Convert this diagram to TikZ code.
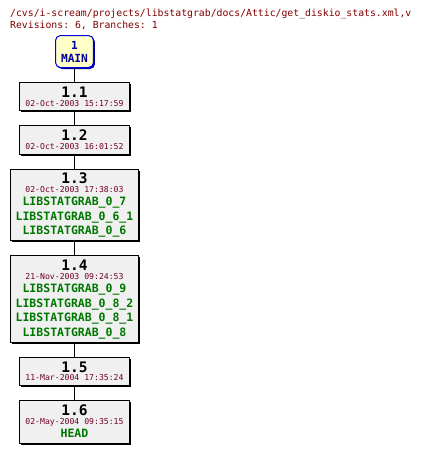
\documentclass[tikz,border=0pt]{standalone}
\usepackage{fontspec}
\setmonofont{DejaVu Sans Mono}
\usepackage{tikz}
\usetikzlibrary{positioning,shadows}

\definecolor{cvsred}{RGB}{128,0,0}
\definecolor{datered}{RGB}{112,0,40}
\definecolor{taggreen}{RGB}{0,120,0}
\definecolor{mainblue}{RGB}{0,0,160}
\definecolor{mainline}{RGB}{0,0,220}
\definecolor{mainfill}{RGB}{255,255,200}
\definecolor{revfill}{RGB}{240,240,240}

\newcommand{\revno}[1]{\rule[-2.7pt]{0pt}{17.5pt}{\fontsize{14.5pt}{14.5pt}\selectfont\bfseries #1}}
\newcommand{\revdate}[1]{\rule[-4.7pt]{0pt}{10.7pt}{\fontsize{8.15pt}{8.15pt}\selectfont\color{datered}#1}}
\newcommand{\revtag}[1]{\rule[-6pt]{0pt}{14pt}{\fontsize{11.5pt}{11.5pt}\selectfont\bfseries\color{taggreen}#1}}

\begin{document}
\begin{tikzpicture}[
    x=1pt, y=1pt,
    node distance=14pt,
    title/.style={anchor=base west, inner sep=0pt, text=cvsred,
      font=\fontsize{9.8pt}{9.8pt}\selectfont\ttfamily},
    trunk/.style={draw=mainline, fill=mainfill, rounded corners=5pt,
      line width=1pt, align=center, inner xsep=5.5pt, inner ysep=0pt,
      text=mainblue, font=\offinterlineskip\ttfamily\bfseries,
      drop shadow={shadow xshift=1.5pt, shadow yshift=-1.5pt,
        fill=mainblue, opacity=1}},
    rev/.style={draw=black, fill=revfill, line width=1pt, align=center,
      minimum width=109pt, inner xsep=5.5pt, inner ysep=0pt,
      font=\offinterlineskip\ttfamily,
      drop shadow={shadow xshift=1.5pt, shadow yshift=-1.5pt,
        fill=black, opacity=1}},
    link/.style={draw=black, line width=1pt}
  ]
    \useasboundingbox (0,0) rectangle (428,-453);
    \node[title] (path) at (10,-16.5)
      {/cvs/i-scream/projects/libstatgrab/docs/Attic/get\_diskio\_stats.xml,v};
    \node[title] (count) at (10,-28.5) {Revisions: 6, Branches: 1};

    \node[trunk] (main) at (74.5,-51.5)
      {\rule[-4pt]{0pt}{17.6pt}{\fontsize{11.2pt}{11.2pt}\selectfont 1}\\
       \rule[-5.4pt]{0pt}{14.4pt}{\fontsize{11.2pt}{11.2pt}\selectfont MAIN}};
    \node[rev, below=of main] (r11)
      {\revno{1.1}\\ \revdate{02-Oct-2003 15:17:59}};
    \node[rev, below=of r11] (r12)
      {\revno{1.2}\\ \revdate{02-Oct-2003 16:01:52}};
    \node[rev, below=of r12] (r13)
      {\revno{1.3}\\ \revdate{02-Oct-2003 17:38:03}\\
       \revtag{LIBSTATGRAB\_0\_7}\\ \revtag{LIBSTATGRAB\_0\_6\_1}\\
       \revtag{LIBSTATGRAB\_0\_6}};
    \node[rev, below=of r13] (r14)
      {\revno{1.4}\\ \revdate{21-Nov-2003 09:24:53}\\
       \revtag{LIBSTATGRAB\_0\_9}\\ \revtag{LIBSTATGRAB\_0\_8\_2}\\
       \revtag{LIBSTATGRAB\_0\_8\_1}\\ \revtag{LIBSTATGRAB\_0\_8}};
    \node[rev, below=of r14] (r15)
      {\revno{1.5}\\ \revdate{11-Mar-2004 17:35:24}};
    \node[rev, below=of r15] (r16)
      {\revno{1.6}\\ \revdate{02-May-2004 09:35:15}\\ \revtag{HEAD}};

    \draw[link] (main) -- (r11);
    \draw[link] (r11) -- (r12);
    \draw[link] (r12) -- (r13);
    \draw[link] (r13) -- (r14);
    \draw[link] (r14) -- (r15);
    \draw[link] (r15) -- (r16);
  \end{tikzpicture}
\end{document}
